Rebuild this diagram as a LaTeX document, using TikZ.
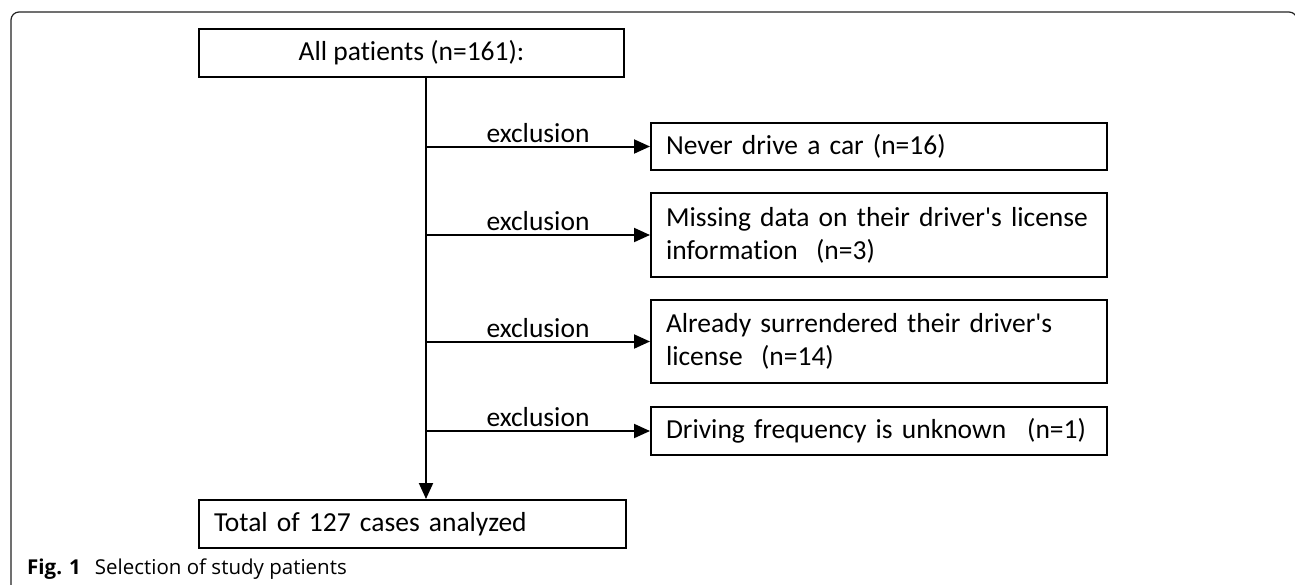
\documentclass[tikz,border=0pt]{standalone}
\usepackage{fontspec}
\setmainfont{Carlito}[Ligatures={TeXOff,NoCommon}]
\newfontfamily\capfont{Open Sans}
\usepackage{tikz}
\usetikzlibrary{
    arrows.meta,
    positioning,
    calc
}
\definecolor{frameGray}{RGB}{35,35,35}

\begin{document}
\begin{tikzpicture}[
    x=1pt,
    y=-1pt,
    font=\fontsize{27.5}{33}\selectfont,
    >={Triangle[length=16pt,width=14pt]},
    flowbox/.style={
        draw,
        line width=2pt,
        inner xsep=15pt,
        inner ysep=0pt
    },
    exclbox/.style={
        flowbox,
        text width=426pt,
        align=left
    },
    flow/.style={
        ->,
        line width=2pt
    }
]

\useasboundingbox (0,0) rectangle (1295,584);

% =============================================================
% Outer frame
% =============================================================

\draw[
    frameGray,
    line width=1.2pt,
    rounded corners=8pt
]
(11,600) -- (11,12) -- (1297,12) -- (1297,600);

% =============================================================
% Boxes
% =============================================================

\node[
    flowbox,
    minimum width=425pt,
    minimum height=48pt
] (all) at (411.5,53)
{All patients (n=161):};

\node[
    exclbox,
    minimum height=47pt
] (ex1) at (879,146.5)
{Never drive a car (n=16)};

\node[
    exclbox,
    minimum height=84pt
] (ex2) at (879,235)
{\mbox{Missing data on their driver's license}\\information\ \ (n=3)};

\node[
    exclbox,
    minimum height=83pt
] (ex3) at (879,341.5)
{Already surrendered their driver's\\license\ \ (n=14)};

\node[
    exclbox,
    minimum height=48pt
] (ex4) at (879,431)
{\mbox{Driving frequency is unknown\hspace{21pt}(n=1)}};

\node[
    flowbox,
    text width=397pt,
    align=left,
    minimum height=48pt
] (total) at (412.5,524)
{Total of 127 cases analyzed};

% =============================================================
% Connectors
% =============================================================

\coordinate (trunk) at (426,77);

\draw[flow]
(trunk) -- (trunk |- total.north);

\foreach \i in {1,...,4}{
    \coordinate (branch\i) at (trunk |- ex\i.west);

    \draw[flow]
    (branch\i) -- (ex\i.west)
    node[
        midway,
        above,
        inner sep=3pt
    ] {exclusion};
}

% Caption
\node[
    anchor=base west,
    inner sep=0pt,
    font=\capfont\fontsize{20.5}{24}\selectfont
] (caption) at (27,574)
{\textbf{Fig. 1}\hspace{14pt}Selection of study patients};

\end{tikzpicture}
\end{document}
